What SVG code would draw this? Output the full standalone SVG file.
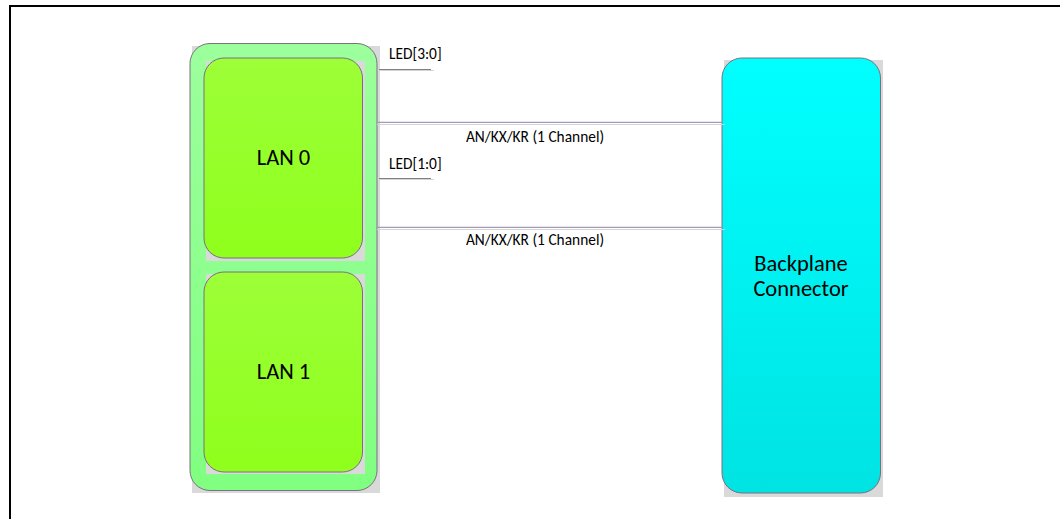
<svg xmlns="http://www.w3.org/2000/svg" width="1060" height="519" viewBox="0 0 1060 519">
<style>
.shadow{fill:#d9d9d9;}
.box{stroke:#7a7080;stroke-width:1;}
.big{font-family:Calibri,Carlito,"Liberation Sans",Arial,sans-serif;font-size:22.5px;fill:#000;text-anchor:middle;}
.small{font-family:Calibri,Carlito,"Liberation Sans",Arial,sans-serif;font-size:15.4px;fill:#000;}
.bus{stroke:#a49bb8;stroke-width:1.3;fill:none;}
.busl{stroke:#d4d4d4;stroke-width:1;fill:none;}
.led{stroke:#808080;stroke-width:1;fill:none;}
.ledl{stroke:#d4d4d4;stroke-width:1;fill:none;}
</style>
<defs>
<linearGradient id="gOuter" x1="0" y1="0" x2="0" y2="1"><stop offset="0" stop-color="#9cff9c"/><stop offset="1" stop-color="#80ff80"/></linearGradient>
<linearGradient id="gLan" x1="0" y1="0" x2="0" y2="1"><stop offset="0" stop-color="#9dff38"/><stop offset="1" stop-color="#8fff1c"/></linearGradient>
<linearGradient id="gBp" x1="0" y1="0" x2="0" y2="1"><stop offset="0" stop-color="#00ffff"/><stop offset="1" stop-color="#00e3e3"/></linearGradient>
</defs>
<rect width="1060" height="519" fill="#fff"/>
<path d="M10 519 V6 H1060" fill="none" stroke="#000" stroke-width="2"/>

<g id="controller">
<rect class="shadow" x="192" y="46" width="188" height="447"/>
<rect class="box" x="190" y="43.5" width="187" height="447" rx="20" fill="url(#gOuter)"/>
</g>
<g id="lan0">
<rect class="shadow" x="206" y="61" width="159" height="200"/>
<rect class="box" x="204" y="58" width="158.5" height="200" rx="20" fill="url(#gLan)"/>
<text class="big" x="283.5" y="165">LAN 0</text>
</g>
<g id="lan1">
<rect class="shadow" x="206" y="274" width="159" height="200"/>
<rect class="box" x="204" y="272" width="158.5" height="200" rx="20" fill="url(#gLan)"/>
<text class="big" x="283.5" y="379">LAN 1</text>
</g>
<g id="backplane">
<rect class="shadow" x="724" y="60" width="159" height="437"/>
<rect class="box" x="722" y="58" width="158.5" height="435" rx="20" fill="url(#gBp)"/>
<text class="big" x="801" y="271">Backplane</text>
<text class="big" x="801" y="295.5">Connector</text>
</g>

<g id="connectors">
<line class="led" x1="379" y1="69.5" x2="431" y2="69.5"/>
<line class="ledl" x1="379" y1="70.5" x2="434" y2="70.5"/>
<text class="small" x="389" y="58.5">LED[3:0]</text>
<line class="led" x1="379" y1="178.5" x2="431" y2="178.5"/>
<line class="ledl" x1="379" y1="179.5" x2="434" y2="179.5"/>
<text class="small" x="389" y="168.5">LED[1:0]</text>
<line class="bus" x1="377" y1="122.3" x2="722" y2="122.3"/>
<line class="busl" x1="377" y1="124.5" x2="725" y2="124.5"/>
<text class="small" x="535" y="141.5" text-anchor="middle">AN/KX/KR (1 Channel)</text>
<line class="bus" x1="377" y1="227.3" x2="722" y2="227.3"/>
<line class="busl" x1="377" y1="229.5" x2="725" y2="229.5"/>
<text class="small" x="535" y="245" text-anchor="middle">AN/KX/KR (1 Channel)</text>
</g>
</svg>
